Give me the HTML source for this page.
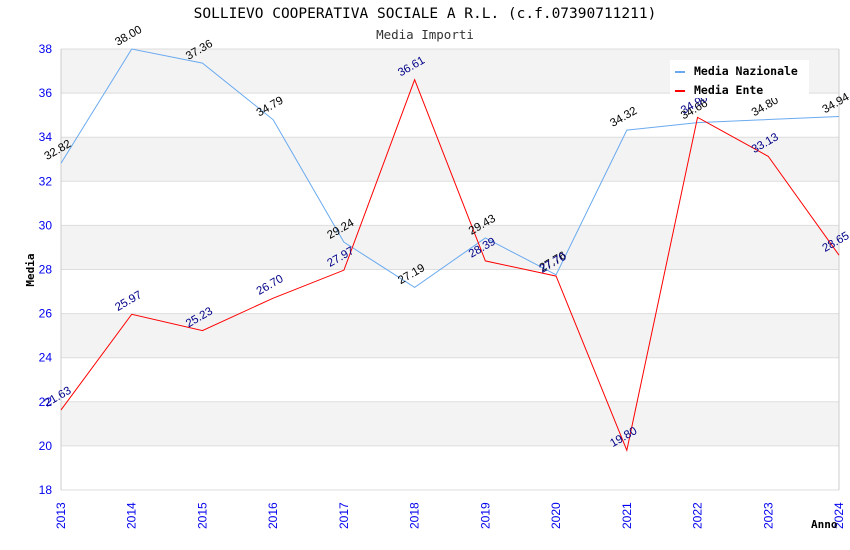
<!DOCTYPE html>
<html><head><meta charset="utf-8"><style>
body{margin:0;background:#fff;}
svg{display:block;font-family:"DejaVu Sans Mono","Liberation Mono",monospace;}
</style></head><body>
<svg id="c" width="850" height="550">
<text x="425" y="18" text-anchor="middle" font-size="14.5">SOLLIEVO COOPERATIVA SOCIALE A R.L. (c.f.07390711211)</text>
<text x="425" y="39" text-anchor="middle" font-size="12.5" fill="#333">Media Importi</text>
<g id="bands"></g><g id="axes"></g><g id="series"></g><g id="labels"></g>
<text x="34" y="270" font-size="11" font-weight="bold" transform="rotate(-90 34 270)" text-anchor="middle">Media</text>
<text x="811" y="528" font-size="11" font-weight="bold">Anno</text>
<g>
<rect x="670" y="60" width="139" height="38" fill="#fff"/>
<line x1="675" y1="72" x2="685" y2="72" stroke="#6aaaf0" stroke-width="2"/>
<text x="694" y="75" font-size="11.5" font-weight="bold">Media Nazionale</text>
<line x1="675" y1="91" x2="685" y2="91" stroke="red" stroke-width="2"/>
<text x="694" y="94" font-size="11.5" font-weight="bold">Media Ente</text>
</g>
</svg>
<script>
const years=[2013,2014,2015,2016,2017,2018,2019,2020,2021,2022,2023,2024];
const nazionale=[32.82,38.00,37.36,34.79,29.24,27.19,29.43,27.76,34.32,34.66,34.80,34.94];
const ente=[21.63,25.97,25.23,26.70,27.97,36.61,28.39,27.70,19.80,34.90,33.13,28.65];
const yTicks=[18,20,22,24,26,28,30,32,34,36,38];
const NS="http://www.w3.org/2000/svg";
const X0=61,X1=839,Y0=490,Y1=49,ymin=18,ymax=38;
const xs=i=>X0+(X1-X0)*i/(years.length-1);
const ys=v=>Y0-(v-ymin)/(ymax-ymin)*(Y0-Y1);
function mk(t,a,p){const e=document.createElementNS(NS,t);for(const k in a)e.setAttribute(k,a[k]);p.appendChild(e);return e;}
const bands=document.getElementById('bands'),axes=document.getElementById('axes'),ser=document.getElementById('series'),lab=document.getElementById('labels');
for(let i=0;i<yTicks.length-1;i++){
  const a=yTicks[i],b=yTicks[i+1];
  const gray=((ymax-b)/2)%2===0;
  const r=mk('rect',{x:X0,y:ys(b),width:X1-X0,height:ys(a)-ys(b),fill:gray?'#f3f3f3':'#fff'},bands);
  
  
}
yTicks.forEach(t=>{
  const l=mk('line',{x1:X0,x2:X1,y1:ys(t),y2:ys(t),stroke:'#ddd'},axes);
  
  
  const tx=mk('text',{x:X0-9,y:ys(t)+4,'text-anchor':'end','font-size':12,fill:'#0000ee','font-family':'Liberation Sans, sans-serif'},axes);
  tx.textContent=t;
  
  
});
mk('line',{x1:X0,x2:X0,y1:Y1,y2:Y0,stroke:'#ccc'},axes);
mk('line',{x1:X1,x2:X1,y1:Y1,y2:Y0,stroke:'#ccc'},axes);
years.forEach((y,i)=>{
  const tx=mk('text',{x:xs(i)+4,y:529,'font-size':12,fill:'#0000ee','font-family':'Liberation Sans, sans-serif',transform:`rotate(-90 ${xs(i)+4} 529)`},axes);
  tx.textContent=y;
  
  
});
function series(vals,color,lc,name){
  const p=mk('polyline',{points:vals.map((v,i)=>xs(i)+','+ys(v)).join(' '),fill:'none',stroke:color,'stroke-width':1},ser);
  
  
  vals.forEach((v,i)=>{
    const x=xs(i)-14,y=ys(v)-3;
    const t=mk('text',{x:x,y:y,'font-size':11.5,fill:lc,'font-family':'Liberation Sans, sans-serif',transform:`rotate(-30 ${x} ${y})`},lab);
    t.textContent=v.toFixed(2);
    
    
  });
}
series(nazionale,'#6aaaf0','#000','nazionale');
series(ente,'red','#000088','ente');
</script>
</body></html>
